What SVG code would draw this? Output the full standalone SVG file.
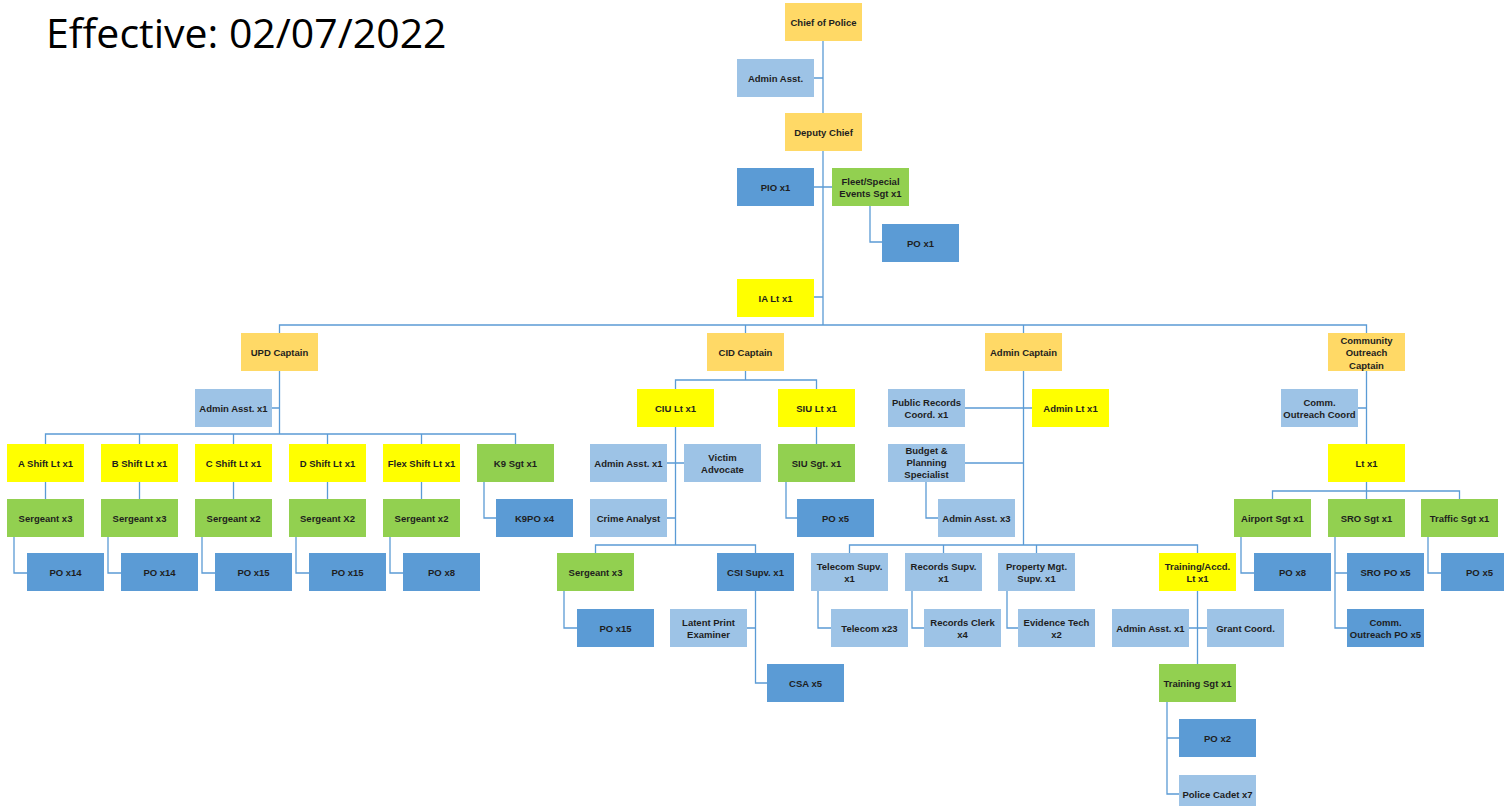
<svg xmlns="http://www.w3.org/2000/svg" width="1504" height="806" viewBox="0 0 1504 806">
<style>
rect{width:77px;height:38px}
.o{fill:#FFD966}.y{fill:#FFFF00}.g{fill:#92D050}.d{fill:#5B9BD5}.l{fill:#9DC3E6}
text{font-family:"Liberation Sans",Arial,sans-serif;font-weight:bold;font-size:9.5px;fill:#1e1e1e;text-anchor:middle}
.title{font-family:"Open Sans","Liberation Sans",sans-serif;font-weight:normal;font-size:41px;fill:#000;text-anchor:start}
#connectors path{fill:none;stroke:#5B9BD5;stroke-width:1.3}
</style>
<rect width="1504" height="806" style="width:1504px;height:806px" fill="#fff"/>
<text class="title" x="46" y="48">Effective: 02/07/2022</text>

<g id="connectors">
<path d="M823 41V113M823 151V325M814 78H823M814 187H832M814 297H823M870 206V242H882"/>
<path d="M279.5 333V325H1366.5V333M745.5 325V333M1023.5 325V333"/>
<!-- UPD -->
<path d="M279.5 371V434M272 408H279.5M45.5 444V434H515.5V444M139.5 434V444M233.5 434V444M327.5 434V444M421.5 434V444"/>
<path d="M45.5 482V499M139.5 482V499M233.5 482V499M327.5 482V499M421.5 482V499"/>
<path d="M14 537V573H27M108 537V573H121M202 537V573H215M296 537V573H309M390 537V573H403M484 482V518H496"/>
<!-- CID -->
<path d="M745.5 371V380M675.5 389V380H816.5V389M675.5 427V545M667 463H684M667 518H675.5M595.5 553V545H755.5V553"/>
<path d="M564 591V628H577M755.5 591V683H767M747 628H755.5M816.5 427V444M786 482V518H797"/>
<!-- Admin -->
<path d="M1023.5 371V545M965 408H1032M965 463H1023.5M926 482V518H938"/>
<path d="M849.5 553V545H1197.5V553M943.5 545V553M1036.5 545V553"/>
<path d="M818 591V628H831M912 591V628H924M1007 591V628H1018"/>
<path d="M1197.5 591V664M1189 628H1207M1167 702V794H1179M1167 738H1179"/>
<!-- Community -->
<path d="M1366.5 371V444M1358 408H1366.5M1366.5 482V499M1272.5 499V491H1459.5V499"/>
<path d="M1241 537V573H1254M1335 537V628H1347M1335 573H1347M1428 537V573H1441"/>
</g>

<g id="chief"><rect class="o" x="785" y="3"/><text x="823.5" y="25.5">Chief of Police</text></g>
<g id="admin-asst"><rect class="l" x="737" y="59"/><text x="775.5" y="81.5">Admin Asst.</text></g>
<g id="deputy"><rect class="o" x="785" y="113"/><text x="823.5" y="135.5">Deputy Chief</text></g>
<g id="pio"><rect class="d" x="737" y="168"/><text x="775.5" y="190.5">PIO x1</text></g>
<g id="fleet"><rect class="g" x="832" y="168"/><text x="870.5" y="184.5">Fleet/Special</text><text x="870.5" y="196.5">Events Sgt x1</text></g>
<g id="po-fleet"><rect class="d" x="882" y="224"/><text x="920.5" y="246.5">PO x1</text></g>
<g id="ia"><rect class="y" x="737" y="279"/><text x="775.5" y="301.5">IA Lt x1</text></g>

<g id="upd"><rect class="o" x="241" y="333"/><text x="279.5" y="355.5">UPD Captain</text></g>
<g id="cid"><rect class="o" x="707" y="333"/><text x="745.5" y="355.5">CID Captain</text></g>
<g id="admin-captain"><rect class="o" x="985" y="333"/><text x="1023.5" y="355.5">Admin Captain</text></g>
<g id="comm-captain"><rect class="o" x="1328" y="333"/><text x="1366.5" y="343.5">Community</text><text x="1366.5" y="356">Outreach</text><text x="1366.5" y="368.5">Captain</text></g>

<g id="upd-admin"><rect class="l" x="195" y="389"/><text x="233.5" y="411.5">Admin Asst. x1</text></g>
<g id="a-shift"><rect class="y" x="7" y="444"/><text x="45.5" y="466.5">A Shift Lt x1</text></g>
<g id="b-shift"><rect class="y" x="101" y="444"/><text x="139.5" y="466.5">B Shift Lt x1</text></g>
<g id="c-shift"><rect class="y" x="195" y="444"/><text x="233.5" y="466.5">C Shift Lt x1</text></g>
<g id="d-shift"><rect class="y" x="289" y="444"/><text x="327.5" y="466.5">D Shift Lt x1</text></g>
<g id="flex-shift"><rect class="y" x="383" y="444"/><text x="421.5" y="466.5">Flex Shift Lt x1</text></g>
<g id="k9"><rect class="g" x="477" y="444"/><text x="515.5" y="466.5">K9 Sgt x1</text></g>
<g id="a-sgt"><rect class="g" x="7" y="499"/><text x="45.5" y="521.5">Sergeant x3</text></g>
<g id="b-sgt"><rect class="g" x="101" y="499"/><text x="139.5" y="521.5">Sergeant x3</text></g>
<g id="c-sgt"><rect class="g" x="195" y="499"/><text x="233.5" y="521.5">Sergeant x2</text></g>
<g id="d-sgt"><rect class="g" x="289" y="499"/><text x="327.5" y="521.5">Sergeant X2</text></g>
<g id="flex-sgt"><rect class="g" x="383" y="499"/><text x="421.5" y="521.5">Sergeant x2</text></g>
<g id="k9po"><rect class="d" x="496" y="499"/><text x="534.5" y="521.5">K9PO x4</text></g>
<g id="a-po"><rect class="d" x="27" y="553"/><text x="65.5" y="575.5">PO x14</text></g>
<g id="b-po"><rect class="d" x="121" y="553"/><text x="159.5" y="575.5">PO x14</text></g>
<g id="c-po"><rect class="d" x="215" y="553"/><text x="253.5" y="575.5">PO x15</text></g>
<g id="d-po"><rect class="d" x="309" y="553"/><text x="347.5" y="575.5">PO x15</text></g>
<g id="flex-po"><rect class="d" x="403" y="553"/><text x="441.5" y="575.5">PO x8</text></g>

<g id="ciu"><rect class="y" x="637" y="389"/><text x="675.5" y="411.5">CIU Lt x1</text></g>
<g id="siu"><rect class="y" x="778" y="389"/><text x="816.5" y="411.5">SIU Lt x1</text></g>
<g id="cid-admin"><rect class="l" x="590" y="444"/><text x="628.5" y="466.5">Admin Asst. x1</text></g>
<g id="victim"><rect class="l" x="684" y="444"/><text x="722.5" y="460.5">Victim</text><text x="722.5" y="472.5">Advocate</text></g>
<g id="crime"><rect class="l" x="590" y="499"/><text x="628.5" y="521.5">Crime Analyst</text></g>
<g id="siu-sgt"><rect class="g" x="778" y="444"/><text x="816.5" y="466.5">SIU Sgt. x1</text></g>
<g id="siu-po"><rect class="d" x="797" y="499"/><text x="835.5" y="521.5">PO x5</text></g>
<g id="cid-sgt"><rect class="g" x="557" y="553"/><text x="595.5" y="575.5">Sergeant x3</text></g>
<g id="csi"><rect class="d" x="717" y="553"/><text x="755.5" y="575.5">CSI Supv. x1</text></g>
<g id="cid-po"><rect class="d" x="577" y="609"/><text x="615.5" y="631.5">PO x15</text></g>
<g id="latent"><rect class="l" x="670" y="609"/><text x="708.5" y="625.5">Latent Print</text><text x="708.5" y="637.5">Examiner</text></g>
<g id="csa"><rect class="d" x="767" y="664"/><text x="805.5" y="686.5">CSA x5</text></g>

<g id="pubrec"><rect class="l" x="888" y="389"/><text x="926.5" y="405.5">Public Records</text><text x="926.5" y="417.5">Coord. x1</text></g>
<g id="admin-lt"><rect class="y" x="1032" y="389"/><text x="1070.5" y="411.5">Admin Lt x1</text></g>
<g id="budget"><rect class="l" x="888" y="444"/><text x="926.5" y="454">Budget &amp;</text><text x="926.5" y="466">Planning</text><text x="926.5" y="478">Specialist</text></g>
<g id="admin-x3"><rect class="l" x="938" y="499"/><text x="976.5" y="521.5">Admin Asst. x3</text></g>
<g id="telecom-supv"><rect class="l" x="811" y="553"/><text x="849.5" y="569.5">Telecom Supv.</text><text x="849.5" y="581.5">x1</text></g>
<g id="records-supv"><rect class="l" x="905" y="553"/><text x="943.5" y="569.5">Records Supv.</text><text x="943.5" y="581.5">x1</text></g>
<g id="property"><rect class="l" x="998" y="553"/><text x="1036.5" y="569.5">Property Mgt.</text><text x="1036.5" y="581.5">Supv. x1</text></g>
<g id="training-lt"><rect class="y" x="1159" y="553"/><text x="1197.5" y="569.5">Training/Accd.</text><text x="1197.5" y="581.5">Lt x1</text></g>
<g id="telecom"><rect class="l" x="831" y="609"/><text x="869.5" y="631.5">Telecom x23</text></g>
<g id="records-clerk"><rect class="l" x="924" y="609"/><text x="962.5" y="625.5">Records Clerk</text><text x="962.5" y="637.5">x4</text></g>
<g id="evidence"><rect class="l" x="1018" y="609"/><text x="1056.5" y="625.5">Evidence Tech</text><text x="1056.5" y="637.5">x2</text></g>
<g id="tr-admin"><rect class="l" x="1112" y="609"/><text x="1150.5" y="631.5">Admin Asst. x1</text></g>
<g id="grant"><rect class="l" x="1207" y="609"/><text x="1245.5" y="631.5">Grant Coord.</text></g>
<g id="tr-sgt"><rect class="g" x="1159" y="664"/><text x="1197.5" y="686.5">Training Sgt x1</text></g>
<g id="tr-po"><rect class="d" x="1179" y="719"/><text x="1217.5" y="741.5">PO x2</text></g>
<g id="cadet"><rect class="l" x="1179" y="775"/><text x="1217.5" y="797.5">Police Cadet x7</text></g>

<g id="comm-coord"><rect class="l" x="1281" y="389"/><text x="1319.5" y="405.5">Comm.</text><text x="1319.5" y="417.5">Outreach Coord</text></g>
<g id="comm-lt"><rect class="y" x="1328" y="444"/><text x="1366.5" y="466.5">Lt x1</text></g>
<g id="airport"><rect class="g" x="1234" y="499"/><text x="1272.5" y="521.5">Airport Sgt x1</text></g>
<g id="sro"><rect class="g" x="1328" y="499"/><text x="1366.5" y="521.5">SRO Sgt x1</text></g>
<g id="traffic"><rect class="g" x="1421" y="499"/><text x="1459.5" y="521.5">Traffic Sgt x1</text></g>
<g id="airport-po"><rect class="d" x="1254" y="553"/><text x="1292.5" y="575.5">PO x8</text></g>
<g id="sro-po"><rect class="d" x="1347" y="553"/><text x="1385.5" y="575.5">SRO PO x5</text></g>
<g id="comm-po"><rect class="d" x="1347" y="609"/><text x="1385.5" y="625.5">Comm.</text><text x="1385.5" y="637.5">Outreach PO x5</text></g>
<g id="traffic-po"><rect class="d" x="1441" y="553"/><text x="1479.5" y="575.5">PO x5</text></g>
</svg>
